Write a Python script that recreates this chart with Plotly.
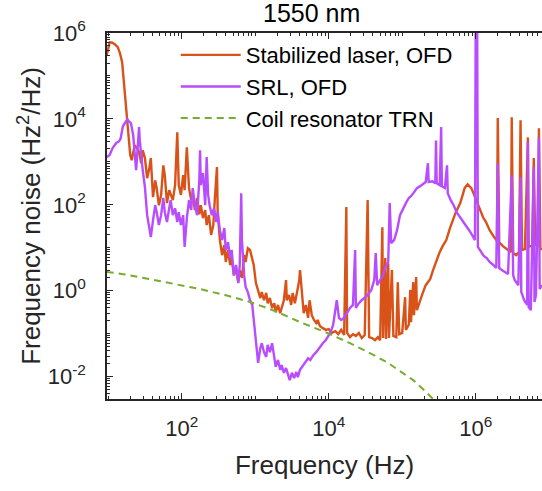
import plotly.graph_objects as go

# ---- data (log10 of frequency in Hz, log10 of frequency noise in Hz^2/Hz) ----
laser_logf = [0.98, 1.02, 1.05, 1.09, 1.13, 1.16, 1.19, 1.23, 1.26, 1.30, 1.32, 1.36, 1.39, 1.42, 1.45, 1.47, 1.50, 1.53, 1.56, 1.58,
              1.61, 1.64, 1.66, 1.69, 1.72, 1.75, 1.77, 1.80, 1.83, 1.85, 1.88, 1.91, 1.94, 1.96, 1.99, 2.02, 2.04, 2.07, 2.10, 2.13,
              2.15, 2.18, 2.21, 2.24, 2.26, 2.29, 2.32, 2.34, 2.37, 2.40, 2.43, 2.45, 2.48, 2.49, 2.52, 2.55, 2.58, 2.60, 2.63, 2.66,
              2.68, 2.71, 2.74, 2.77, 2.79, 2.82, 2.85, 2.87, 2.90, 2.93, 2.96, 2.98, 3.01, 3.04, 3.07, 3.09, 3.12, 3.15, 3.17, 3.20,
              3.23, 3.26, 3.28, 3.31, 3.34, 3.36, 3.39, 3.42, 3.43, 3.46, 3.49, 3.51, 3.54, 3.57, 3.60, 3.61, 3.64, 3.66, 3.69, 3.72,
              3.74, 3.77, 3.80, 3.83, 3.85, 3.88, 3.92, 3.96, 4.00, 4.04, 4.09, 4.13, 4.17, 4.21, 4.24, 4.25, 4.29, 4.33, 4.37, 4.41,
              4.45, 4.49, 4.53, 4.55, 4.59, 4.63, 4.67, 4.70, 4.73, 4.74, 4.77, 4.78, 4.81, 4.82, 4.86, 4.88, 4.92, 4.94, 4.96, 5.00,
              5.04, 5.05, 5.09, 5.11, 5.12, 5.15, 5.16, 5.19, 5.20, 5.24, 5.28, 5.32, 5.38, 5.42, 5.46, 5.51, 5.55, 5.60, 5.65, 5.69,
              5.73, 5.79, 5.83, 5.85, 5.89, 5.94, 5.98, 6.02, 6.06, 6.10, 6.14, 6.19, 6.25, 6.29, 6.30, 6.32, 6.37, 6.43, 6.48, 6.49,
              6.51, 6.55, 6.59, 6.61, 6.63, 6.67, 6.71, 6.72, 6.77, 6.79, 6.81, 6.85, 6.86, 6.88, 6.90]
laser_logn = [5.48, 5.78, 5.78, 5.74, 5.67, 5.53, 5.32, 4.53, 3.85, 3.16, 3.04, 3.39, 3.32, 3.23, 2.97, 3.27, 3.09, 2.62, 2.85, 3.09,
              2.18, 2.57, 2.39, 1.99, 2.23, 2.92, 2.69, 2.04, 2.34, 2.23, 2.11, 2.46, 3.69, 2.46, 2.23, 2.69, 2.34, 3.34, 2.39, 2.11,
              2.23, 1.88, 2.16, 1.78, 1.99, 1.69, 1.88, 1.53, 1.76, 1.30, 1.53, 2.11, 2.88, 1.81, 1.18, 0.83, 1.06, 0.67, 0.95, 0.60,
              0.76, 0.36, 0.53, 0.20, 0.48, 0.30, 0.83, 0.67, 0.99, 0.95, 0.76, 0.60, 0.18, 0.02, -0.17, -0.03, -0.22, -0.05, -0.29, -0.17,
              -0.40, -0.29, -0.50, -0.33, -0.52, -0.40, -0.22, 0.25, -0.22, -0.10, -0.33, -0.05, -0.29, -0.03, 0.25, 0.48, -0.22, -0.52, -0.33, -0.63,
              -0.22, -0.57, -0.68, -0.75, -0.68, -0.82, -0.87, -0.91, -0.89, -0.98, -0.94, -1.01, -0.91, -1.03, 1.95, -0.98, -1.08, -1.01, -1.05, -0.98,
              -1.10, -1.03, 2.11, -1.08, -1.10, -1.15, -1.08, -1.15, 1.48, -1.10, 0.76, -1.12, 0.64, -1.10, 0.48, -1.05, -1.08, 0.20, -1.01, -0.98,
              -0.15, -0.91, -0.79, 0.02, -0.73, 0.20, -0.57, 0.32, -0.45, -0.22, -0.05, 0.13, 0.27, 0.48, 0.67, 0.90, 1.04, 1.18, 1.46, 1.64,
              1.83, 2.04, 2.25, 2.39, 2.48, 2.39, 2.23, 2.04, 1.88, 1.71, 1.60, 1.41, 1.25, 1.16, 4.02, 1.13, 1.04, 0.97, 0.90, 4.04,
              0.88, 0.83, 0.90, 3.97, 0.95, 0.97, 3.57, 1.02, 1.06, 3.09, 1.08, 1.02, 3.78, 0.99, 0.95]

srl_logf = [0.98, 1.02, 1.06, 1.11, 1.15, 1.17, 1.20, 1.23, 1.26, 1.28, 1.31, 1.34, 1.36, 1.38, 1.39, 1.42, 1.43, 1.45, 1.47, 1.50,
            1.51, 1.53, 1.56, 1.58, 1.61, 1.64, 1.66, 1.69, 1.72, 1.75, 1.77, 1.80, 1.83, 1.85, 1.88, 1.91, 1.94, 1.96, 1.99, 2.02,
            2.04, 2.07, 2.10, 2.13, 2.15, 2.18, 2.21, 2.24, 2.25, 2.26, 2.29, 2.32, 2.34, 2.36, 2.38, 2.41, 2.44, 2.47, 2.49, 2.52,
            2.55, 2.58, 2.60, 2.63, 2.66, 2.68, 2.71, 2.74, 2.77, 2.79, 2.81, 2.82, 2.85, 2.87, 2.90, 2.93, 2.96, 2.98, 3.01, 3.04,
            3.07, 3.09, 3.12, 3.15, 3.17, 3.20, 3.23, 3.26, 3.28, 3.31, 3.34, 3.36, 3.39, 3.42, 3.45, 3.47, 3.50, 3.53, 3.56, 3.58,
            3.61, 3.64, 3.66, 3.69, 3.72, 3.75, 3.79, 3.83, 3.88, 3.92, 3.96, 4.02, 4.06, 4.09, 4.11, 4.14, 4.17, 4.21, 4.25, 4.29,
            4.33, 4.36, 4.37, 4.41, 4.45, 4.49, 4.53, 4.58, 4.62, 4.64, 4.66, 4.70, 4.74, 4.77, 4.81, 4.83, 4.85, 4.89, 4.93, 4.97,
            5.01, 5.05, 5.09, 5.12, 5.16, 5.20, 5.24, 5.28, 5.32, 5.35, 5.36, 5.41, 5.45, 5.46, 5.47, 5.51, 5.53, 5.54, 5.58, 5.61,
            5.62, 5.66, 5.70, 5.74, 5.79, 5.83, 5.87, 5.91, 5.95, 5.99, 6.00, 6.02, 6.03, 6.07, 6.11, 6.15, 6.19, 6.24, 6.28, 6.30,
            6.32, 6.36, 6.40, 6.44, 6.49, 6.51, 6.53, 6.58, 6.61, 6.62, 6.66, 6.70, 6.71, 6.72, 6.75, 6.79, 6.80, 6.82, 6.86, 6.87,
            6.90]
srl_logn = [3.11, 3.16, 3.32, 3.44, 3.48, 3.55, 3.83, 3.92, 3.99, 3.95, 3.90, 3.62, 3.27, 2.81, 3.04, 3.81, 3.50, 3.04, 2.81, 2.41,
            2.11, 1.76, 1.46, 1.25, 1.64, 1.99, 1.83, 1.53, 1.76, 2.16, 1.83, 1.60, 1.92, 2.11, 1.76, 1.92, 1.60, 1.83, 1.53, 1.76,
            1.02, 1.69, 2.11, 1.88, 2.39, 1.99, 1.76, 2.57, 3.27, 2.46, 2.74, 1.99, 3.11, 2.23, 1.99, 1.76, 1.92, 1.60, 1.83, 1.41,
            1.18, 1.46, 0.95, 1.13, 0.76, 0.95, 0.36, 0.60, 0.18, 0.60, 2.27, 1.18, 0.36, 0.09, -0.03, -0.22, -0.33, -0.68, -1.15, -1.68,
            -1.33, -1.22, -1.43, -1.54, -1.26, -1.43, -1.22, -1.57, -1.77, -1.61, -1.84, -1.73, -1.91, -1.80, -2.01, -2.08, -1.91, -2.03, -1.89, -2.01,
            -1.84, -1.77, -1.73, -1.66, -1.57, -1.61, -1.50, -1.43, -1.31, -1.22, -1.15, -0.98, -0.80, -0.45, -0.22, -0.63, -0.68, -0.63, -0.52, -0.40,
            -0.33, 0.95, -0.40, -0.29, -0.22, -0.17, -0.10, 0.02, 0.25, 0.88, 0.13, 0.25, 0.36, 0.55, 0.67, 2.04, 1.11, 1.18, 1.41, 1.76,
            1.92, 2.04, 2.16, 2.20, 2.29, 2.39, 2.43, 2.48, 2.53, 2.97, 2.53, 2.55, 2.50, 3.50, 2.50, 2.46, 3.81, 2.43, 2.39, 2.92,
            2.27, 2.11, 1.99, 1.83, 1.71, 1.60, 1.53, 1.41, 1.30, 1.18, 6.30, 6.30, 1.02, 0.90, 0.81, 0.76, 0.67, 0.60, 0.53, 2.97,
            0.53, 0.48, 0.43, 0.39, 2.69, 0.36, 0.25, 0.13, 2.64, -0.03, -0.22, -0.33, 3.46, -0.38, -0.45, 2.88, -0.26, -0.10, 3.57, 0.04,
            0.13]

trn_logf = [0.98, 1.23, 1.57, 1.91, 2.25, 2.59, 2.93, 3.27, 3.61, 3.95, 4.29, 4.56, 4.79, 4.97, 5.15, 5.31, 5.42, 5.51]
trn_logn = [0.44, 0.38, 0.27, 0.16, 0.04, -0.10, -0.26, -0.47, -0.73, -0.96, -1.22, -1.45, -1.66, -1.87, -2.08, -2.33, -2.52, -2.71]

series_names = ["Stabilized laser, OFD", "SRL, OFD", "Coil resonator TRN"]
x_tick_exps = [2, 4, 6]
y_tick_exps = [-2, 0, 2, 4, 6]

FONT = "Liberation Sans, Arial, sans-serif"
TXT = "#262626"

def pw(v):
    return [10 ** a for a in v]

fig = go.Figure()
fig.add_trace(go.Scatter(x=pw(laser_logf), y=pw(laser_logn), mode="lines", name=series_names[0],
                         line=dict(color="#D95319", width=2.4)))
fig.add_trace(go.Scatter(x=pw(srl_logf), y=pw(srl_logn), mode="lines", name=series_names[1],
                         line=dict(color="#B84DFF", width=2.4)))
fig.add_trace(go.Scatter(x=pw(trn_logf), y=pw(trn_logn), mode="lines", name=series_names[2],
                         line=dict(color="#77AC30", width=2, dash="7px,5px")))

def minor_vals(lo, hi):
    out = []
    for d in range(lo, hi):
        for k in range(1, 10):
            out.append(k * 10 ** d)
    return out

fig.update_layout(
    width=542, height=491,
    margin=dict(l=107, r=0, t=33, b=92, pad=0, autoexpand=False),
    paper_bgcolor="white", plot_bgcolor="white",
    font=dict(family=FONT, color=TXT, size=22),
    showlegend=True,
    legend=dict(x=0.158, y=0.997, xanchor="left", yanchor="top", bgcolor="rgba(0,0,0,0)",
                font=dict(size=22, family=FONT, color="black"), itemwidth=60, tracegroupgap=0),
    annotations=[dict(text="1550 nm", x=0.469, y=1.0546, xref="paper", yref="paper", yanchor="middle",
                      xanchor="center", showarrow=False, font=dict(size=25, color="black", family=FONT))],
)
fig.update_xaxes(
    type="log", range=[0.984, 6.902], automargin=False,
    showline=True, linecolor=TXT, linewidth=1.5, mirror="ticks",
    ticks="inside", ticklen=6, tickwidth=1, tickcolor=TXT, ticklabelstandoff=9,
    tickvals=[10 ** e for e in x_tick_exps], ticktext=["10<sup>%d</sup>" % e for e in x_tick_exps],
    tickfont=dict(size=22, color=TXT),
    minor=dict(ticks="inside", ticklen=3, tickcolor=TXT, tickmode="array", tickvals=minor_vals(1, 7)),
    showgrid=False, zeroline=False,
    title=dict(text="Frequency (Hz)", font=dict(size=26, color=TXT), standoff=16),
)
fig.update_yaxes(
    type="log", range=[-2.519, 6.0], automargin=False,
    showline=True, linecolor=TXT, linewidth=1.5, mirror=False,
    ticks="inside", ticklen=6, tickwidth=1, tickcolor=TXT, ticklabelstandoff=15,
    tickvals=[10 ** e for e in y_tick_exps], ticktext=["10<sup>%d</sup>" % e for e in y_tick_exps],
    tickfont=dict(size=22, color=TXT),
    minor=dict(ticks="inside", ticklen=3, tickcolor=TXT, tickmode="array", tickvals=minor_vals(-3, 6)),
    showgrid=False, zeroline=False,
    title=dict(text="Frequency noise (Hz<sup>2</sup>/Hz)", font=dict(size=26, color=TXT), standoff=0),
)

# remove the default 8px page margin so the figure sits at the window's top-left corner
fig.write_html("out.html", config={"displayModeBar": False},
               post_script="document.body.style.margin='0';")
